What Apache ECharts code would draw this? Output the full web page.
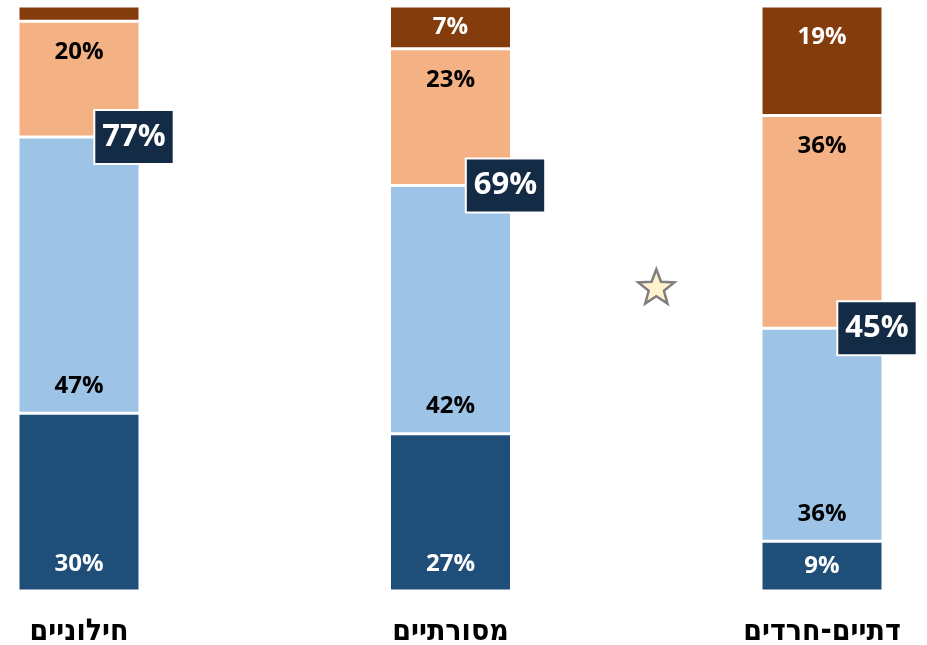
<!DOCTYPE html>
<html>
<head>
<meta charset="utf-8">
<script src="https://cdn.jsdelivr.net/npm/echarts@6/dist/echarts.min.js"></script>
<style>html,body{margin:0;padding:0;background:#fff}#c{width:927px;height:645px}</style>
</head>
<body>
<div id="c"></div>
<script>
const categories = ['חילוניים', 'מסורתיים', 'דתיים-חרדים'];
const darkBlue = [30.4, 26.9, 8.5];
const lightBlue = [47.2, 42.4, 36.4];
const orange = [19.8, 23.4, 36.4];
const brown = [2.6, 7.3, 18.7];
const totals = [77, 69, 45];

const chart = echarts.init(document.getElementById('c'));
const numFont = '"Open Sans", Lato, sans-serif';
const fmt = p => Math.round(p.value) + '%';

function segLabel(pos, dist, color) {
  return {show: true, position: pos, distance: dist, color: color, fontFamily: numFont,
          fontWeight: 'bold', fontSize: 24, formatter: fmt};
}

function starPoints(R, r) {
  const pts = [];
  for (let i = 0; i < 10; i++) {
    const a = -Math.PI / 2 + i * Math.PI / 5;
    const rad = i % 2 === 0 ? R : r;
    pts.push([rad * Math.cos(a), rad * Math.sin(a)]);
  }
  return pts;
}

const barBase = {type: 'bar', stack: 'a', barWidth: 122, clip: false,
  itemStyle: {borderColor: '#fff', borderWidth: 1.5}};

chart.setOption({
  animation: false,
  grid: {left: 79, right: 105, top: 6, bottom: 54, containLabel: false, outerBoundsMode: 'none'},
  xAxis: {type: 'category', data: categories, boundaryGap: false,
    axisLine: {show: false}, axisTick: {show: false},
    axisLabel: {margin: 26, fontSize: 30, fontWeight: 'bold', color: '#000',
      fontFamily: '"DejaVu Sans Condensed", "DejaVu Sans", sans-serif'}},
  yAxis: {type: 'value', min: 0, max: 100, show: false, splitLine: {show: false}},
  series: [
    Object.assign({}, barBase, {name: 'dark', itemStyle: Object.assign({}, barBase.itemStyle, {color: '#1F4E79'}),
      data: darkBlue.map((v, i) => i === 2 ? {value: v, label: {position: 'inside'}} : v),
      label: segLabel('insideBottom', 15, '#fff')}),
    Object.assign({}, barBase, {name: 'light', itemStyle: Object.assign({}, barBase.itemStyle, {color: '#9DC3E6'}),
      data: lightBlue, label: segLabel('insideBottom', 15, '#000')}),
    Object.assign({}, barBase, {name: 'orange', itemStyle: Object.assign({}, barBase.itemStyle, {color: '#F4B183'}),
      data: orange, label: segLabel('insideTop', 19, '#000')}),
    Object.assign({}, barBase, {name: 'brown', itemStyle: Object.assign({}, barBase.itemStyle, {color: '#843C0C'}),
      data: brown.map((v, i) => i === 0 ? {value: v, label: {show: false}} : (i === 1 ? {value: v, label: {position: 'inside'}} : v)),
      label: segLabel('insideTop', 19, '#fff')}),
    {type: 'scatter', symbolSize: 1, z: 10, zlevel: 1,
      data: totals.map((t, i) => ({value: darkBlue[i] + lightBlue[i], total: t})),
      itemStyle: {opacity: 0},
      label: {show: true, position: 'inside', offset: [55, 0], formatter: p => p.data.total + '%',
        color: '#fff', fontFamily: numFont, fontWeight: 'bold', fontSize: 31, lineHeight: 36,
        opacity: 1,
        backgroundColor: '#132B44', borderColor: '#fff', borderWidth: 2, padding: [8, 7, 8, 7]}}
  ],
  graphic: [{type: 'polygon', left: 637, top: 268, shape: {points: starPoints(19, 8)},
    style: {fill: '#FFF2CC', stroke: '#7F7F7F', lineWidth: 2.5}}]
});
</script>
</body>
</html>
